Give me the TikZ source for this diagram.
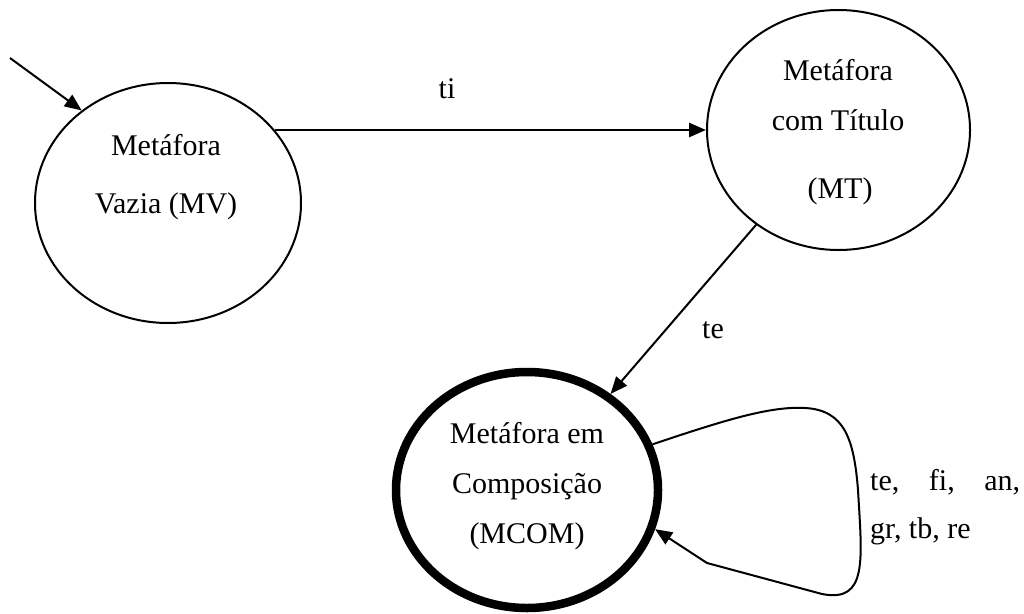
\documentclass[tikz,border=0pt]{standalone}
\usepackage{fontspec}
\setmainfont{Liberation Serif}
\usetikzlibrary{shapes.geometric,arrows.meta}
\begin{document}
\begin{tikzpicture}[x=1pt,y=-1pt,
  state/.style={ellipse, draw, inner sep=0pt, line width=2pt},
  lbl/.style={anchor=base, inner sep=0pt, font=\fontsize{30}{36}\selectfont},
  conn/.style={line width=2pt, -{Triangle[length=17pt,width=14pt]}}]
\useasboundingbox (0,0) rectangle (1024,613);
% states
\node[state, minimum width=266pt, minimum height=240pt] (mv) at (168,203) {};
\node[state, minimum width=263pt, minimum height=240pt] (mt) at (838.5,130) {};
\node[state, line width=8.5pt, minimum width=262pt, minimum height=236pt] (mcom) at (527,490) {};
% texts
\node[lbl] (mva) at (166,155) {Metáfora};
\node[lbl] (mvb) at (166,213) {Vazia (MV)};
\node[lbl] (mta) at (838,80) {Metáfora};
\node[lbl] (mtb) at (838,130) {com Título};
\node[lbl] (mtc) at (840,198) {(MT)};
\node[lbl] (mca) at (527,443) {Metáfora em};
\node[lbl] (mcb) at (527,493) {Composição};
\node[lbl] (mcc) at (527,543) {(MCOM)};
% initial arrow
\coordinate (init) at (10,58);
\draw[conn] (init) -- (mv.133);
% ti
\draw[conn, line width=2.7pt] (mv.34 |- mt.west) -- (mt.west);
\node[lbl] (ti) at (447,98) {ti};
% te
\draw[conn] (mt.229) -- (mcom.49);
\node[lbl] (te) at (713,338) {te};
% loop
\draw[conn] (mcom.20) .. controls (725,420) and (770,406) .. (805,408)
  .. controls (845,410) and (854,440) .. (858,490)
  .. controls (862,560) and (868,603) .. (822,594)
  -- (707,563) -- (mcom.-17);
\node[lbl, anchor=base west] (l1) at (870,490) {\makebox[150pt][s]{te, fi, an,}};
\node[lbl, anchor=base west] (l2) at (870,538) {gr, tb, re};
\end{tikzpicture}
\end{document}
